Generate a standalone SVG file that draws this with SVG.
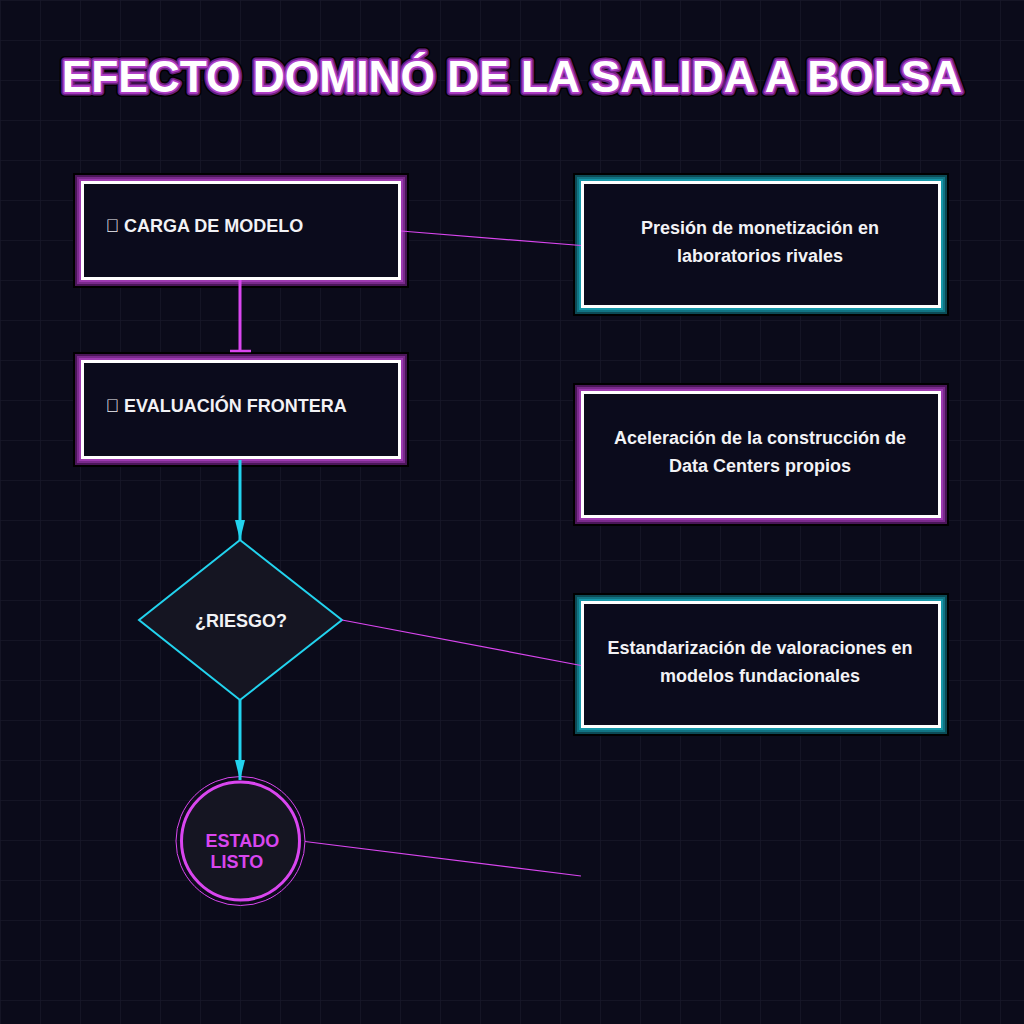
<svg xmlns="http://www.w3.org/2000/svg" width="1024" height="1024" viewBox="0 0 1024 1024">
<defs>
<pattern id="grid" width="40" height="40" patternUnits="userSpaceOnUse">
<path d="M40 0H0V40" fill="none" stroke="#171729" stroke-width="1.5"/>
</pattern>
<marker id="arrowC" viewBox="0 0 20 10" markerWidth="20" markerHeight="10" refX="20" refY="5" orient="auto" markerUnits="userSpaceOnUse">
<path d="M0 0L20 5L0 10Z" fill="#22d3ee"/>
</marker>
</defs>
<style>
.lbl{font-family:"Liberation Sans",Arial,sans-serif;font-weight:bold;font-size:18px;fill:#f2f2f5}
.ctr{text-anchor:middle}
.g0{fill:none;stroke:#000;stroke-width:19}
.pA{fill:none;stroke:#4a1658;stroke-width:15}
.pB{fill:none;stroke:#7a2a8c;stroke-width:11}
.pC{fill:none;stroke:#9d3ab0;stroke-width:7}
.tA{fill:none;stroke:#0c4a55;stroke-width:15}
.tB{fill:none;stroke:#117483;stroke-width:11}
.tC{fill:none;stroke:#1697a8;stroke-width:7}
.wb{fill:#0b0b1c;stroke:#ffffff;stroke-width:3}
.thin{stroke:#d946ef;stroke-width:1.2;fill:none}
.title{font-family:"Liberation Sans",Arial,sans-serif;font-weight:bold;font-size:44.3px;text-anchor:middle}
</style>
<rect width="1024" height="1024" fill="#0b0b1a"/>
<rect width="1024" height="1024" fill="url(#grid)"/>

<g id="title">
<text class="title" x="512" y="92" fill="#000" stroke="#000" stroke-width="10" stroke-linejoin="round">EFECTO DOMINÓ DE LA SALIDA A BOLSA</text>
<text class="title" x="512" y="92" fill="#5a1a6a" stroke="#6a2080" stroke-width="7" stroke-linejoin="round">EFECTO DOMINÓ DE LA SALIDA A BOLSA</text>
<text class="title" x="512" y="92" fill="#fff" stroke="#b040c8" stroke-width="3.5" stroke-linejoin="round">EFECTO DOMINÓ DE LA SALIDA A BOLSA</text>
<text class="title" x="512" y="92" fill="#fff">EFECTO DOMINÓ DE LA SALIDA A BOLSA</text>
</g>

<g id="carga">
<rect class="g0" x="82.5" y="182.5" width="317" height="96"/>
<rect class="pA" x="82.5" y="182.5" width="317" height="96"/>
<rect class="pB" x="82.5" y="182.5" width="317" height="96"/>
<rect class="pC" x="82.5" y="182.5" width="317" height="96"/>
<rect class="wb" x="82.5" y="182.5" width="317" height="96"/>
<text class="lbl" x="105.5" y="232">&#xE000; CARGA DE MODELO</text>
</g>

<g id="evaluacion">
<rect class="g0" x="82.5" y="361.5" width="317" height="96"/>
<rect class="pA" x="82.5" y="361.5" width="317" height="96"/>
<rect class="pB" x="82.5" y="361.5" width="317" height="96"/>
<rect class="pC" x="82.5" y="361.5" width="317" height="96"/>
<rect class="wb" x="82.5" y="361.5" width="317" height="96"/>
<text class="lbl" x="105.5" y="412">&#xE001; EVALUACIÓN FRONTERA</text>
</g>

<g id="riesgo">
<path d="M240 540L342 620L240 700L139 620Z" fill="#151522" stroke="#22d3ee" stroke-width="2"/>
<text class="lbl ctr" x="241" y="627">¿RIESGO?</text>
</g>

<g id="estado">
<circle cx="240.5" cy="841" r="64.5" fill="none" stroke="#d946ef" stroke-width="1"/>
<circle cx="240.5" cy="841" r="59" fill="#151522" stroke="#d946ef" stroke-width="3"/>
<text class="lbl" x="205.5" y="847" style="fill:#d946ef">ESTADO</text>
<text class="lbl" x="210.5" y="868" style="fill:#d946ef">LISTO</text>
</g>

<g id="presion">
<rect class="g0" x="582.5" y="182.5" width="357" height="124"/>
<rect class="tA" x="582.5" y="182.5" width="357" height="124"/>
<rect class="tB" x="582.5" y="182.5" width="357" height="124"/>
<rect class="tC" x="582.5" y="182.5" width="357" height="124"/>
<rect class="wb" x="582.5" y="182.5" width="357" height="124"/>
<text class="lbl ctr" x="760" y="234">Presión de monetización en</text>
<text class="lbl ctr" x="760" y="262">laboratorios rivales</text>
</g>

<g id="aceleracion">
<rect class="g0" x="582.5" y="392.5" width="357" height="124"/>
<rect class="pA" x="582.5" y="392.5" width="357" height="124"/>
<rect class="pB" x="582.5" y="392.5" width="357" height="124"/>
<rect class="pC" x="582.5" y="392.5" width="357" height="124"/>
<rect class="wb" x="582.5" y="392.5" width="357" height="124"/>
<text class="lbl ctr" x="760" y="444">Aceleración de la construcción de</text>
<text class="lbl ctr" x="760" y="472">Data Centers propios</text>
</g>

<g id="estandarizacion">
<rect class="g0" x="582.5" y="602.5" width="357" height="124"/>
<rect class="tA" x="582.5" y="602.5" width="357" height="124"/>
<rect class="tB" x="582.5" y="602.5" width="357" height="124"/>
<rect class="tC" x="582.5" y="602.5" width="357" height="124"/>
<rect class="wb" x="582.5" y="602.5" width="357" height="124"/>
<text class="lbl ctr" x="760" y="654">Estandarización de valoraciones en</text>
<text class="lbl ctr" x="760" y="682">modelos fundacionales</text>
</g>

<g id="connectors">
<line x1="240" y1="280" x2="240" y2="351" stroke="#d946ef" stroke-width="3"/>
<line x1="230" y1="351" x2="251" y2="351" stroke="#d946ef" stroke-width="2.5"/>
<line x1="240" y1="460" x2="240" y2="540" stroke="#22d3ee" stroke-width="3" marker-end="url(#arrowC)"/>
<line x1="240" y1="700" x2="240" y2="780" stroke="#22d3ee" stroke-width="3" marker-end="url(#arrowC)"/>
<line class="thin" x1="401" y1="231" x2="581" y2="245.5"/>
<line class="thin" x1="342" y1="620" x2="581" y2="665.5"/>
<line class="thin" x1="305" y1="841.5" x2="581" y2="876"/>
</g>
</svg>
